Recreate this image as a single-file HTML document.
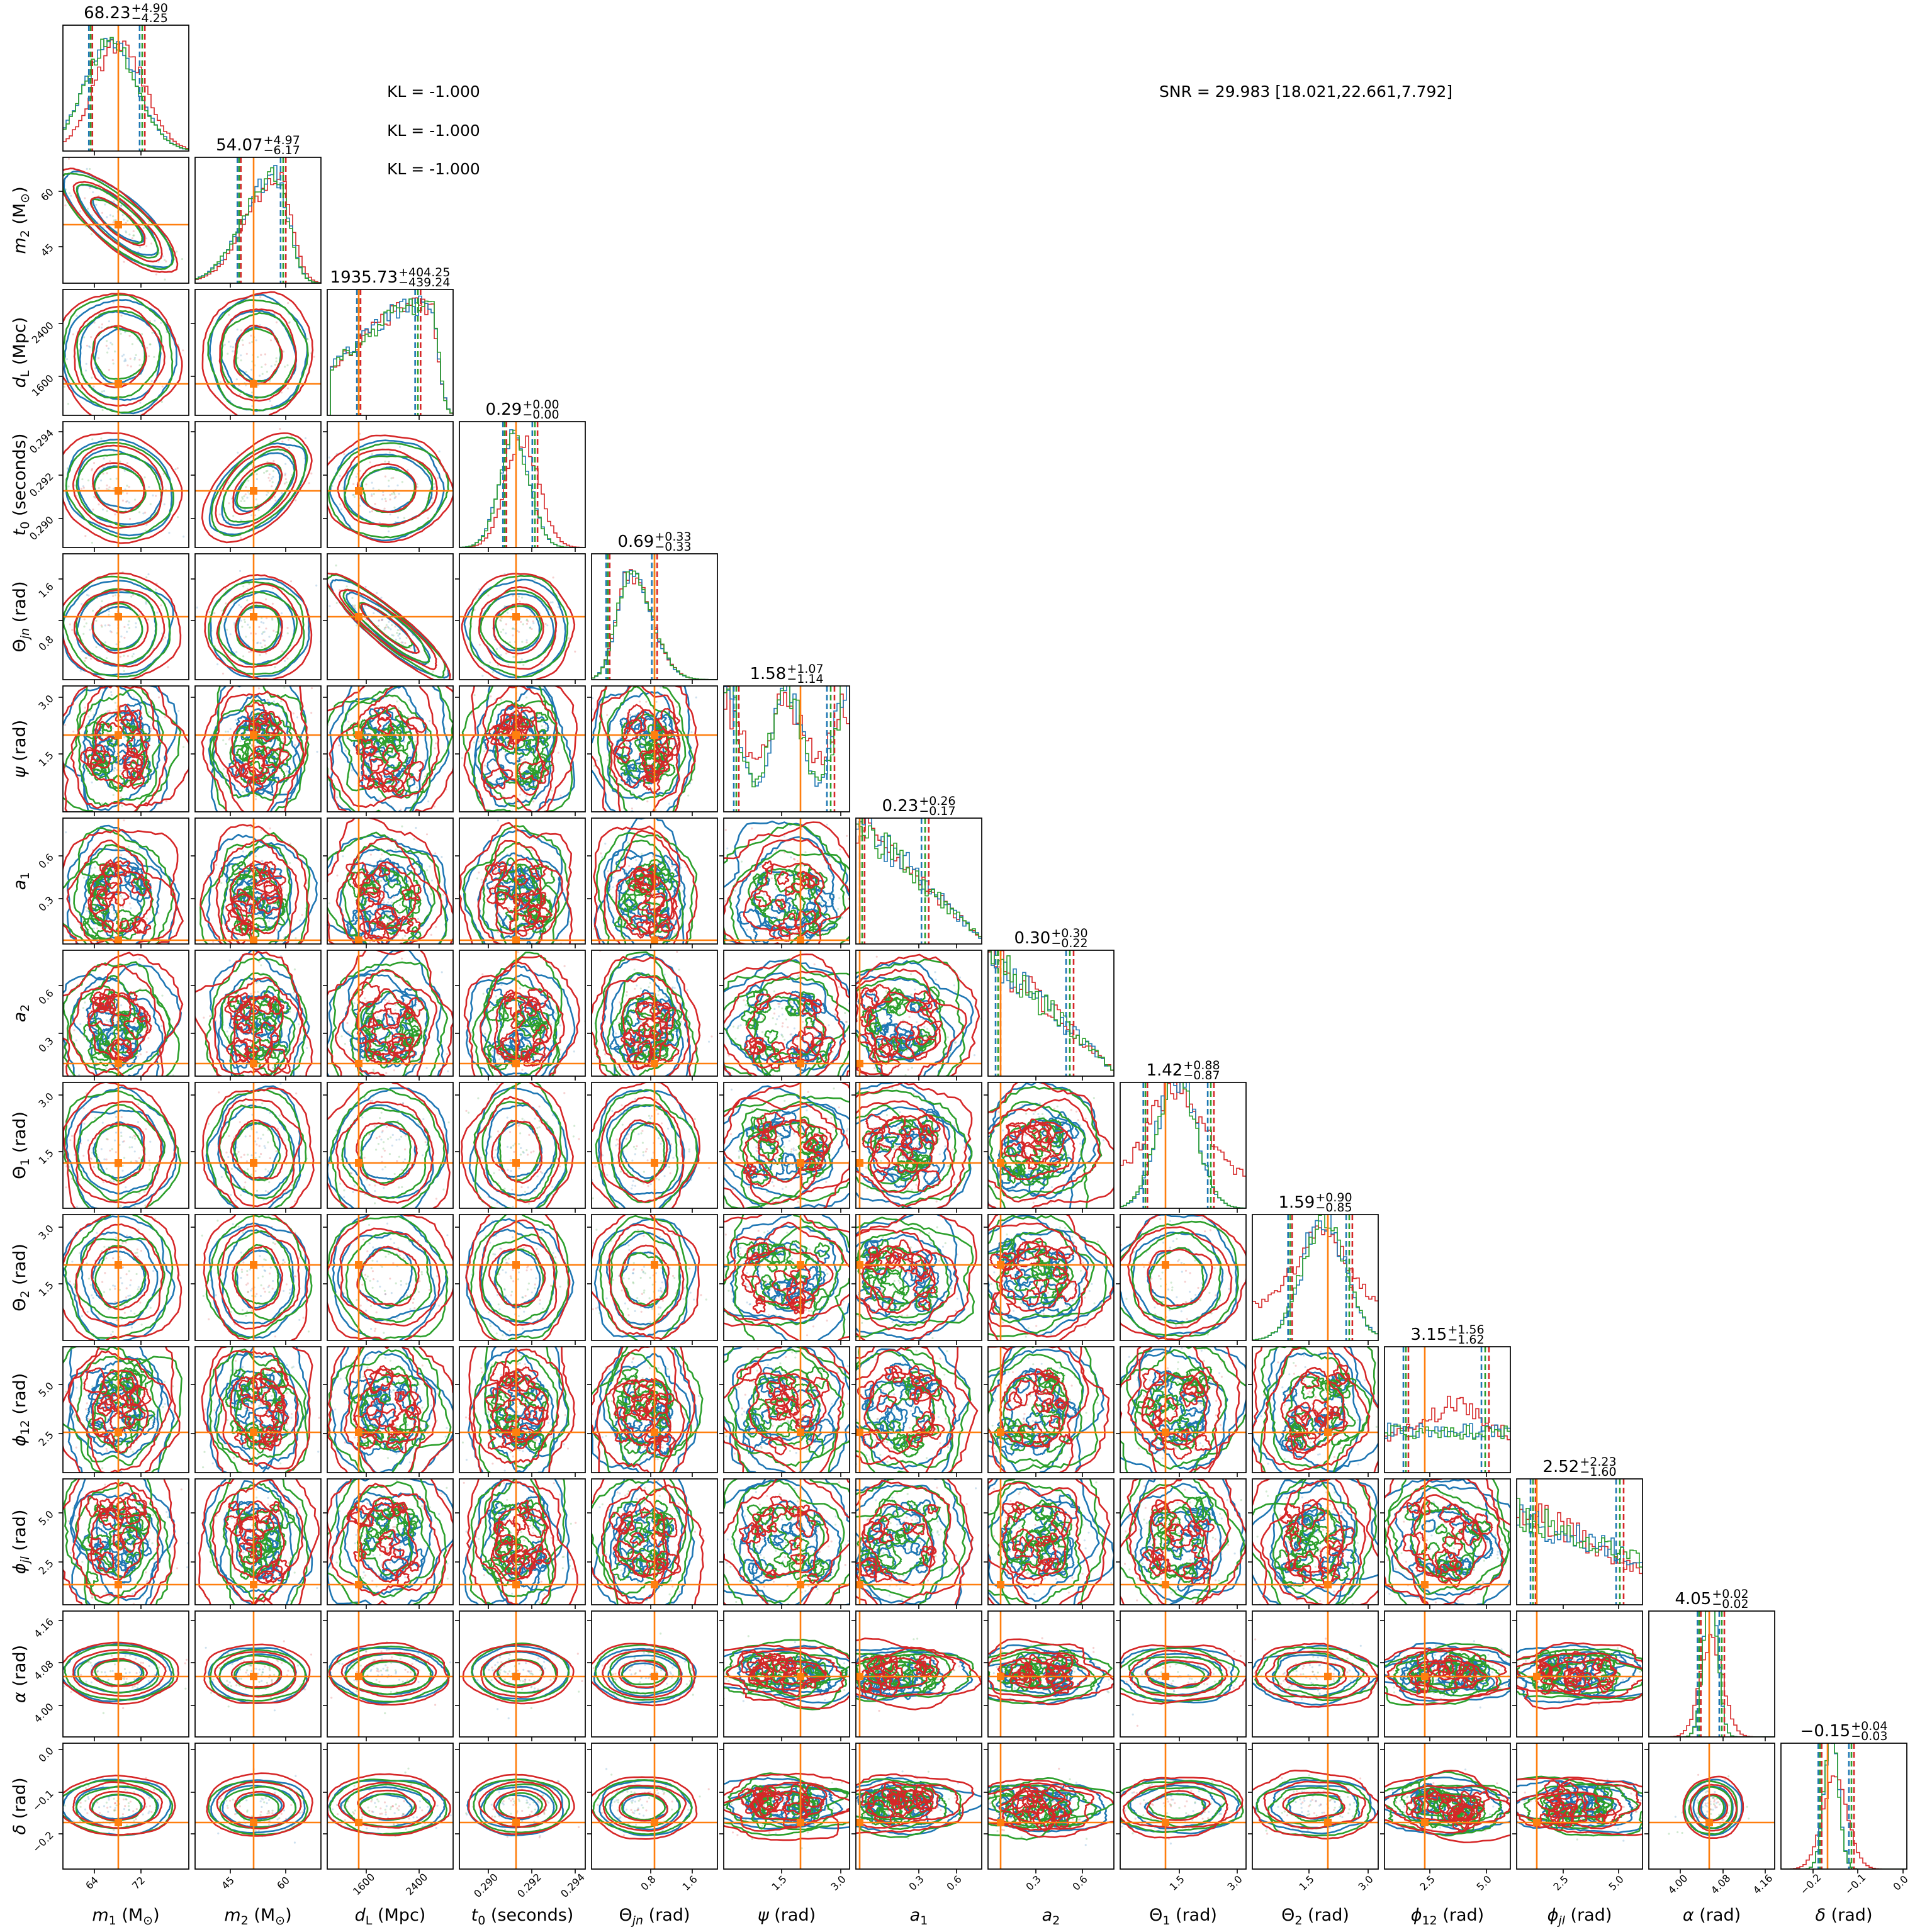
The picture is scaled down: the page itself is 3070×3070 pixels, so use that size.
<!DOCTYPE html>
<html><head><meta charset="utf-8"><style>
html,body{margin:0;padding:0;background:#fff;}
body{width:3070px;height:3070px;position:relative;overflow:hidden;font-family:"DejaVu Sans","Liberation Sans",sans-serif;}
svg{position:absolute;left:0;top:0;}
svg text{font-family:"DejaVu Sans","Liberation Sans",sans-serif;fill:#000;}
.tt{position:absolute;width:400px;height:40px;display:flex;align-items:center;justify-content:center;white-space:nowrap;}
.tt .m{font-size:26px;line-height:26px;}
.tt .s{display:inline-flex;flex-direction:column;font-size:19px;line-height:16px;margin-left:1px;}
.yl{font-size:27px;}
.xl{font-size:27px;}
.tk{font-size:16px;}
</style></head><body>
<svg id="sv" width="3070" height="3070" xmlns="http://www.w3.org/2000/svg">
<g id="g"></g>
<g id="txt">
<text x="615" y="154" font-size="25">KL = -1.000</text>
<text x="615" y="216" font-size="25">KL = -1.000</text>
<text x="615" y="277" font-size="25">KL = -1.000</text>
<text x="1842" y="154" font-size="25">SNR = 29.983 [18.021,22.661,7.792]</text>

<text class="yl" text-anchor="middle" transform="translate(40,350) rotate(-90)"><tspan font-style="italic">m</tspan><tspan font-size="19" dy="6">2</tspan><tspan dy="-6"> (M</tspan><tspan font-size="19" dy="6">⊙</tspan><tspan dy="-6">)</tspan></text>
<text class="yl" text-anchor="middle" transform="translate(40,560) rotate(-90)"><tspan font-style="italic">d</tspan><tspan font-size="19" dy="6">L</tspan><tspan dy="-6"> (Mpc)</tspan></text>
<text class="yl" text-anchor="middle" transform="translate(40,770) rotate(-90)"><tspan font-style="italic">t</tspan><tspan font-size="19" dy="6">0</tspan><tspan dy="-6"> (seconds)</tspan></text>
<text class="yl" text-anchor="middle" transform="translate(40,980) rotate(-90)">Θ<tspan font-size="19" dy="6" font-style="italic">jn</tspan><tspan dy="-6"> (rad)</tspan></text>
<text class="yl" text-anchor="middle" transform="translate(40,1190) rotate(-90)"><tspan font-style="italic">ψ</tspan> (rad)</text>
<text class="yl" text-anchor="middle" transform="translate(40,1400) rotate(-90)"><tspan font-style="italic">a</tspan><tspan font-size="19" dy="6">1</tspan></text>
<text class="yl" text-anchor="middle" transform="translate(40,1610) rotate(-90)"><tspan font-style="italic">a</tspan><tspan font-size="19" dy="6">2</tspan></text>
<text class="yl" text-anchor="middle" transform="translate(40,1820) rotate(-90)">Θ<tspan font-size="19" dy="6">1</tspan><tspan dy="-6"> (rad)</tspan></text>
<text class="yl" text-anchor="middle" transform="translate(40,2030) rotate(-90)">Θ<tspan font-size="19" dy="6">2</tspan><tspan dy="-6"> (rad)</tspan></text>
<text class="yl" text-anchor="middle" transform="translate(40,2240) rotate(-90)"><tspan font-style="italic">ϕ</tspan><tspan font-size="19" dy="6">12</tspan><tspan dy="-6"> (rad)</tspan></text>
<text class="yl" text-anchor="middle" transform="translate(40,2450) rotate(-90)"><tspan font-style="italic">ϕ</tspan><tspan font-size="19" dy="6" font-style="italic">jl</tspan><tspan dy="-6"> (rad)</tspan></text>
<text class="yl" text-anchor="middle" transform="translate(40,2660) rotate(-90)"><tspan font-style="italic">α</tspan> (rad)</text>
<text class="yl" text-anchor="middle" transform="translate(40,2870) rotate(-90)"><tspan font-style="italic">δ</tspan> (rad)</text>

<text class="xl" text-anchor="middle" x="200" y="3052"><tspan font-style="italic">m</tspan><tspan font-size="19" dy="6">1</tspan><tspan dy="-6"> (M</tspan><tspan font-size="19" dy="6">⊙</tspan><tspan dy="-6">)</tspan></text>
<text class="xl" text-anchor="middle" x="410" y="3052"><tspan font-style="italic">m</tspan><tspan font-size="19" dy="6">2</tspan><tspan dy="-6"> (M</tspan><tspan font-size="19" dy="6">⊙</tspan><tspan dy="-6">)</tspan></text>
<text class="xl" text-anchor="middle" x="620" y="3052"><tspan font-style="italic">d</tspan><tspan font-size="19" dy="6">L</tspan><tspan dy="-6"> (Mpc)</tspan></text>
<text class="xl" text-anchor="middle" x="830" y="3052"><tspan font-style="italic">t</tspan><tspan font-size="19" dy="6">0</tspan><tspan dy="-6"> (seconds)</tspan></text>
<text class="xl" text-anchor="middle" x="1040" y="3052">Θ<tspan font-size="19" dy="6" font-style="italic">jn</tspan><tspan dy="-6"> (rad)</tspan></text>
<text class="xl" text-anchor="middle" x="1250" y="3052"><tspan font-style="italic">ψ</tspan> (rad)</text>
<text class="xl" text-anchor="middle" x="1460" y="3052"><tspan font-style="italic">a</tspan><tspan font-size="19" dy="6">1</tspan></text>
<text class="xl" text-anchor="middle" x="1670" y="3052"><tspan font-style="italic">a</tspan><tspan font-size="19" dy="6">2</tspan></text>
<text class="xl" text-anchor="middle" x="1880" y="3052">Θ<tspan font-size="19" dy="6">1</tspan><tspan dy="-6"> (rad)</tspan></text>
<text class="xl" text-anchor="middle" x="2090" y="3052">Θ<tspan font-size="19" dy="6">2</tspan><tspan dy="-6"> (rad)</tspan></text>
<text class="xl" text-anchor="middle" x="2300" y="3052"><tspan font-style="italic">ϕ</tspan><tspan font-size="19" dy="6">12</tspan><tspan dy="-6"> (rad)</tspan></text>
<text class="xl" text-anchor="middle" x="2510" y="3052"><tspan font-style="italic">ϕ</tspan><tspan font-size="19" dy="6" font-style="italic">jl</tspan><tspan dy="-6"> (rad)</tspan></text>
<text class="xl" text-anchor="middle" x="2720" y="3052"><tspan font-style="italic">α</tspan> (rad)</text>
<text class="xl" text-anchor="middle" x="2930" y="3052"><tspan font-style="italic">δ</tspan> (rad)</text>

<g class="tk" text-anchor="middle">
<text transform="translate(150,2996) rotate(-45)">64</text>
<text transform="translate(224,2996) rotate(-45)">72</text>
<text transform="translate(366,2996) rotate(-45)">45</text>
<text transform="translate(454,2996) rotate(-45)">60</text>
<text transform="translate(582,2998) rotate(-45)">1600</text>
<text transform="translate(666,2998) rotate(-45)">2400</text>
<text transform="translate(776,3000) rotate(-45)">0.290</text>
<text transform="translate(845,3000) rotate(-45)">0.292</text>
<text transform="translate(914,3000) rotate(-45)">0.294</text>
<text transform="translate(1034,2996) rotate(-45)">0.8</text>
<text transform="translate(1100,2996) rotate(-45)">1.6</text>
<text transform="translate(1242,2996) rotate(-45)">1.5</text>
<text transform="translate(1336,2996) rotate(-45)">3.0</text>
<text transform="translate(1460,2996) rotate(-45)">0.3</text>
<text transform="translate(1520,2996) rotate(-45)">0.6</text>
<text transform="translate(1646,2996) rotate(-45)">0.3</text>
<text transform="translate(1720,2996) rotate(-45)">0.6</text>
<text transform="translate(1874,2996) rotate(-45)">1.5</text>
<text transform="translate(1966,2996) rotate(-45)">3.0</text>
<text transform="translate(2080,2996) rotate(-45)">1.5</text>
<text transform="translate(2174,2996) rotate(-45)">3.0</text>
<text transform="translate(2272,2996) rotate(-45)">2.5</text>
<text transform="translate(2362,2996) rotate(-45)">5.0</text>
<text transform="translate(2484,2996) rotate(-45)">2.5</text>
<text transform="translate(2572,2996) rotate(-45)">5.0</text>
<text transform="translate(2670,2998) rotate(-45)">4.00</text>
<text transform="translate(2738,2998) rotate(-45)">4.08</text>
<text transform="translate(2805,2998) rotate(-45)">4.16</text>
<text transform="translate(2881,2998) rotate(-45)">−0.2</text>
<text transform="translate(2952,2998) rotate(-45)">−0.1</text>
<text transform="translate(3024,2996) rotate(-45)">0.0</text>
</g>
<g class="tk" text-anchor="end">
<text transform="translate(86,306) rotate(-45)">60</text>
<text transform="translate(86,394) rotate(-45)">45</text>
<text transform="translate(86,518) rotate(-45)">2400</text>
<text transform="translate(86,602) rotate(-45)">1600</text>
<text transform="translate(86,689) rotate(-45)">0.294</text>
<text transform="translate(86,758) rotate(-45)">0.292</text>
<text transform="translate(86,827) rotate(-45)">0.290</text>
<text transform="translate(86,933) rotate(-45)">1.6</text>
<text transform="translate(86,1017) rotate(-45)">0.8</text>
<text transform="translate(86,1111) rotate(-45)">3.0</text>
<text transform="translate(86,1201) rotate(-45)">1.5</text>
<text transform="translate(86,1363) rotate(-45)">0.6</text>
<text transform="translate(86,1431) rotate(-45)">0.3</text>
<text transform="translate(86,1579) rotate(-45)">0.6</text>
<text transform="translate(86,1655) rotate(-45)">0.3</text>
<text transform="translate(86,1743) rotate(-45)">3.0</text>
<text transform="translate(86,1833) rotate(-45)">1.5</text>
<text transform="translate(86,1953) rotate(-45)">3.0</text>
<text transform="translate(86,2043) rotate(-45)">1.5</text>
<text transform="translate(86,2203) rotate(-45)">5.0</text>
<text transform="translate(86,2281) rotate(-45)">2.5</text>
<text transform="translate(86,2407) rotate(-45)">5.0</text>
<text transform="translate(86,2485) rotate(-45)">2.5</text>
<text transform="translate(86,2578) rotate(-45)">4.16</text>
<text transform="translate(86,2645) rotate(-45)">4.08</text>
<text transform="translate(86,2713) rotate(-45)">4.00</text>
<text transform="translate(86,2783) rotate(-45)">0.0</text>
<text transform="translate(86,2851) rotate(-45)">−0.1</text>
<text transform="translate(86,2917) rotate(-45)">−0.2</text>
</g>
</g>
</svg>

<div class="tt" style="left:0px;top:1px"><span class="m">68.23</span><span class="s"><span>+4.90</span><span>−4.25</span></span></div>
<div class="tt" style="left:210px;top:211px"><span class="m">54.07</span><span class="s"><span>+4.97</span><span>−6.17</span></span></div>
<div class="tt" style="left:420px;top:421px"><span class="m">1935.73</span><span class="s"><span>+404.25</span><span>−439.24</span></span></div>
<div class="tt" style="left:630px;top:631px"><span class="m">0.29</span><span class="s"><span>+0.00</span><span>−0.00</span></span></div>
<div class="tt" style="left:840px;top:841px"><span class="m">0.69</span><span class="s"><span>+0.33</span><span>−0.33</span></span></div>
<div class="tt" style="left:1050px;top:1051px"><span class="m">1.58</span><span class="s"><span>+1.07</span><span>−1.14</span></span></div>
<div class="tt" style="left:1260px;top:1261px"><span class="m">0.23</span><span class="s"><span>+0.26</span><span>−0.17</span></span></div>
<div class="tt" style="left:1470px;top:1471px"><span class="m">0.30</span><span class="s"><span>+0.30</span><span>−0.22</span></span></div>
<div class="tt" style="left:1680px;top:1681px"><span class="m">1.42</span><span class="s"><span>+0.88</span><span>−0.87</span></span></div>
<div class="tt" style="left:1890px;top:1891px"><span class="m">1.59</span><span class="s"><span>+0.90</span><span>−0.85</span></span></div>
<div class="tt" style="left:2100px;top:2101px"><span class="m">3.15</span><span class="s"><span>+1.56</span><span>−1.62</span></span></div>
<div class="tt" style="left:2310px;top:2311px"><span class="m">2.52</span><span class="s"><span>+2.23</span><span>−1.60</span></span></div>
<div class="tt" style="left:2520px;top:2521px"><span class="m">4.05</span><span class="s"><span>+0.02</span><span>−0.02</span></span></div>
<div class="tt" style="left:2730px;top:2731px"><span class="m">−0.15</span><span class="s"><span>+0.04</span><span>−0.03</span></span></div>

<script>
(function(){
var NS='http://www.w3.org/2000/svg';
var G=document.getElementById('g');
function el(t,a,p){var e=document.createElementNS(NS,t);for(var k in a)e.setAttribute(k,a[k]);(p||G).appendChild(e);return e;}
var s=987654;function rnd(){s|=0;s=s+0x6D2B79F5|0;var t=Math.imul(s^s>>>15,1|s);t=t+Math.imul(t^t>>>7,61|t)^t;return((t^t>>>14)>>>0)/4294967296;}
function gs(){return Math.sqrt(-2*Math.log(rnd()+1e-9))*Math.cos(2*Math.PI*rnd());}
var P=210,S=200,X0=100,Y0=40,N=14;
var C=[.44,.5,.48,.47,.42,.5,.35,.38,.45,.5,.5,.5,.5,.5];
var SD=[.36,.32,.38,.32,.32,.48,.44,.44,.4,.4,.48,.48,.18,.18];
var NZ=[.05,.05,.07,.05,.06,.22,.2,.22,.12,.12,.22,.22,.04,.04];
var T=[.44,.465,.25,.45,.5,.61,.03,.1,.36,.6,.32,.16,.48,.37];
var Q=[[.22,.63],[.35,.7],[.25,.72],[.36,.6],[.13,.5],[.1,.85],[.05,.55],[.08,.65],[.2,.72],[.3,.77],[.17,.8],[.13,.82],[.4,.58],[.31,.56]];
var COL=['#1f77b4','#2ca02c','#d62728'];
var OR='#ff7f0e';
var RHO={'0,1':-.8,'2,4':-.9,'1,3':.55,'0,3':-.15};
var XT=[[.25,.62],[.28,.72],[.31,.73],[.23,.575,.92],[.47,.8],[.46,.93],[.5,.8],[.38,.75],[.47,.93],[.45,.92],[.36,.81],[.37,.81],[.25,.59,.925],[.255,.61,.97]];
var YT=[[],[.27,.71],[.27,.69],[.08,.425,.77],[.2,.53],[.09,.54],[.3,.64],[.28,.66],[.1,.55],[.1,.55],[.3,.69],[.27,.66],[.075,.41,.75],[.05,.39,.72]];
function px(j){return X0+j*P;}function py(i){return Y0+i*P;}
function clip(id,x,y){var cp=el('clipPath',{id:id});el('rect',{x:x,y:y,width:S,height:S},cp);}
function blob(x0,y0,cx,cy,sx,sy,rho,sc,nz){
 var n=90,h=[];for(var k=2;k<9;k++)h.push([k,nz*rnd()*1.6/k,rnd()*6.28]);
 var r2=Math.sqrt(1-rho*rho),d='';
 for(var q=0;q<n;q++){var t=q/n*2*Math.PI,r=1;for(var m=0;m<h.length;m++)r+=h[m][1]*Math.sin(h[m][0]*t+h[m][2]);r+=nz*.25*(rnd()-.5);r*=sc;
  var x=cx+sx*r*Math.cos(t),y=cy-sy*r*(rho*Math.cos(t)+r2*Math.sin(t));
  d+=(q?'L':'M')+(x0+x*S).toFixed(1)+' '+(y0+y*S).toFixed(1);}
 return d+'Z';}
function g(x,m,w){return Math.exp(-.5*((x-m)/w)*((x-m)/w));}
var F=[
function(x,r){return r?g(x,.45,.2):g(x,.38,.21);},
function(x,r){var m=r?.67:.64;return x<m?g(x,m,.25):g(x,m,.1);},
function(x,r){return x<.03?0:(x<.83?Math.min(1,.45+.55*(x-.03)/.55):g(x,.82,.06));},
function(x,r){return r?g(x,.5,.13):g(x,.44,.12);},
function(x,r){return x<.3?g(x,.3,.1):g(x,.3,.17);},
function(x,r){return r?.75+.25*Math.cos(4*Math.PI*x):.72+.45*Math.cos(4*Math.PI*x);},
function(x,r){return 1.15-1.1*x;},
function(x,r){return 1.15-1.1*x;},
function(x,r){return r?.3+.85*g(x,.45,.2):1.25*g(x,.45,.15);},
function(x,r){return r?.3+.7*g(x,.55,.2):1.15*g(x,.57,.17);},
function(x,r){return r?.35+.25*g(x,.55,.2):.38;},
function(x,r){return r?.95-.65*x:.85-.45*x;},
function(x,r){return r?.9*g(x,.5,.09):1.4*g(x,.49,.055);},
function(x,r){return r?.85*g(x,.43,.1):1.3*g(x,.4,.055);}
];
var frames=[];
for(var i=1;i<N;i++)for(var j=0;j<i;j++){
 var x0=px(j),y0=py(i),id='c'+i+'_'+j;clip(id,x0,y0);
 var gg=el('g',{'clip-path':'url(#'+id+')'});
 var cx=C[j],cy=1-C[i],sx=SD[j],sy=SD[i],rho=RHO[j+','+i]||0,nz=Math.max(NZ[i],NZ[j]);
 var r2=Math.sqrt(1-rho*rho);
 for(var k=0;k<110;k++){var a=gs(),b=gs();var x=cx+sx*.6*a,y=cy-sy*.6*(rho*a+r2*b);
  el('circle',{cx:(x0+x*S).toFixed(1),cy:(y0+y*S).toFixed(1),r:1.6,fill:COL[k%3],'fill-opacity':.22},gg);}
 for(var c=0;c<3;c++){
  var f=c==2?1.1:1,ox=(rnd()-.5)*.03,oy=(rnd()-.5)*.03;
  var lv=[.55,.9,1.2];
  for(var l=0;l<3;l++){
   el('path',{d:blob(x0,y0,cx+ox,cy+oy,sx,sy,rho,lv[l]*f*(1+(rnd()-.5)*.06),nz),fill:'none',stroke:COL[c],'stroke-width':2.6,'stroke-linejoin':'round'},gg);
  }
  if(nz>.15){for(var b2=0;b2<12;b2++){var a=(rnd()-.5)*2.2,bb=(rnd()-.5)*2.2;
   el('path',{d:blob(x0,y0,cx+sx*a*.55,cy+sy*bb*.55,1,1,0,.03+rnd()*.06,.4),fill:'none',stroke:COL[c],'stroke-width':2.4},gg);}}
 }
 el('line',{x1:x0+T[j]*S,x2:x0+T[j]*S,y1:y0,y2:y0+S,stroke:OR,'stroke-width':2.6},gg);
 el('line',{x1:x0,x2:x0+S,y1:y0+(1-T[i])*S,y2:y0+(1-T[i])*S,stroke:OR,'stroke-width':2.6},gg);
 el('rect',{x:x0+T[j]*S-6,y:y0+(1-T[i])*S-6,width:12,height:12,fill:OR},gg);
 frames.push([x0,y0,i,j]);
}
for(var i=0;i<N;i++){
 var x0=px(i),y0=py(i),id='d'+i;clip(id,x0,y0);
 var gg=el('g',{'clip-path':'url(#'+id+')'});
 var nb=40,nz=NZ[i];
 var order=[2,0,1];
 for(var o=0;o<3;o++){var c=order[o];var d='';
  for(var b=0;b<nb;b++){var xm=(b+.5)/nb;var v=F[i](xm,c==2)*(1+(rnd()-.5)*(0.12+nz*1.2));if(c==0)v*=1+(rnd()-.5)*.08;
   var yy=y0+S-Math.max(0,v)*.86*S;var xa=x0+b/nb*S,xb=x0+(b+1)/nb*S;
   d+=(b?'L':'M')+xa.toFixed(1)+' '+yy.toFixed(1)+'L'+xb.toFixed(1)+' '+yy.toFixed(1);}
  el('path',{d:d,fill:'none',stroke:COL[c],'stroke-width':1.6},gg);
 }
 for(var c=0;c<3;c++){var off=(c-1)*.012*(1+nz*3);
  [Q[i][0]+off,Q[i][1]+off*1.5].forEach(function(q){
   el('line',{x1:x0+q*S,x2:x0+q*S,y1:y0,y2:y0+S,stroke:COL[c],'stroke-width':2.6,'stroke-dasharray':'9 5'},gg);});}
 el('line',{x1:x0+T[i]*S,x2:x0+T[i]*S,y1:y0,y2:y0+S,stroke:OR,'stroke-width':2.6},gg);
 frames.push([x0,y0,i,i]);
}
frames.forEach(function(f){
 var x0=f[0],y0=f[1],i=f[2],j=f[3];
 el('rect',{x:x0,y:y0,width:S,height:S,fill:'none',stroke:'#000','stroke-width':1.7});
 XT[j].forEach(function(t){el('line',{x1:x0+t*S,x2:x0+t*S,y1:y0+S,y2:y0+S+7,stroke:'#000','stroke-width':1.6});});
 if(i!=j)YT[i].forEach(function(t){el('line',{x1:x0-7,x2:x0,y1:y0+t*S,y2:y0+t*S,stroke:'#000','stroke-width':1.6});});
});
})();
</script>
</body></html>
